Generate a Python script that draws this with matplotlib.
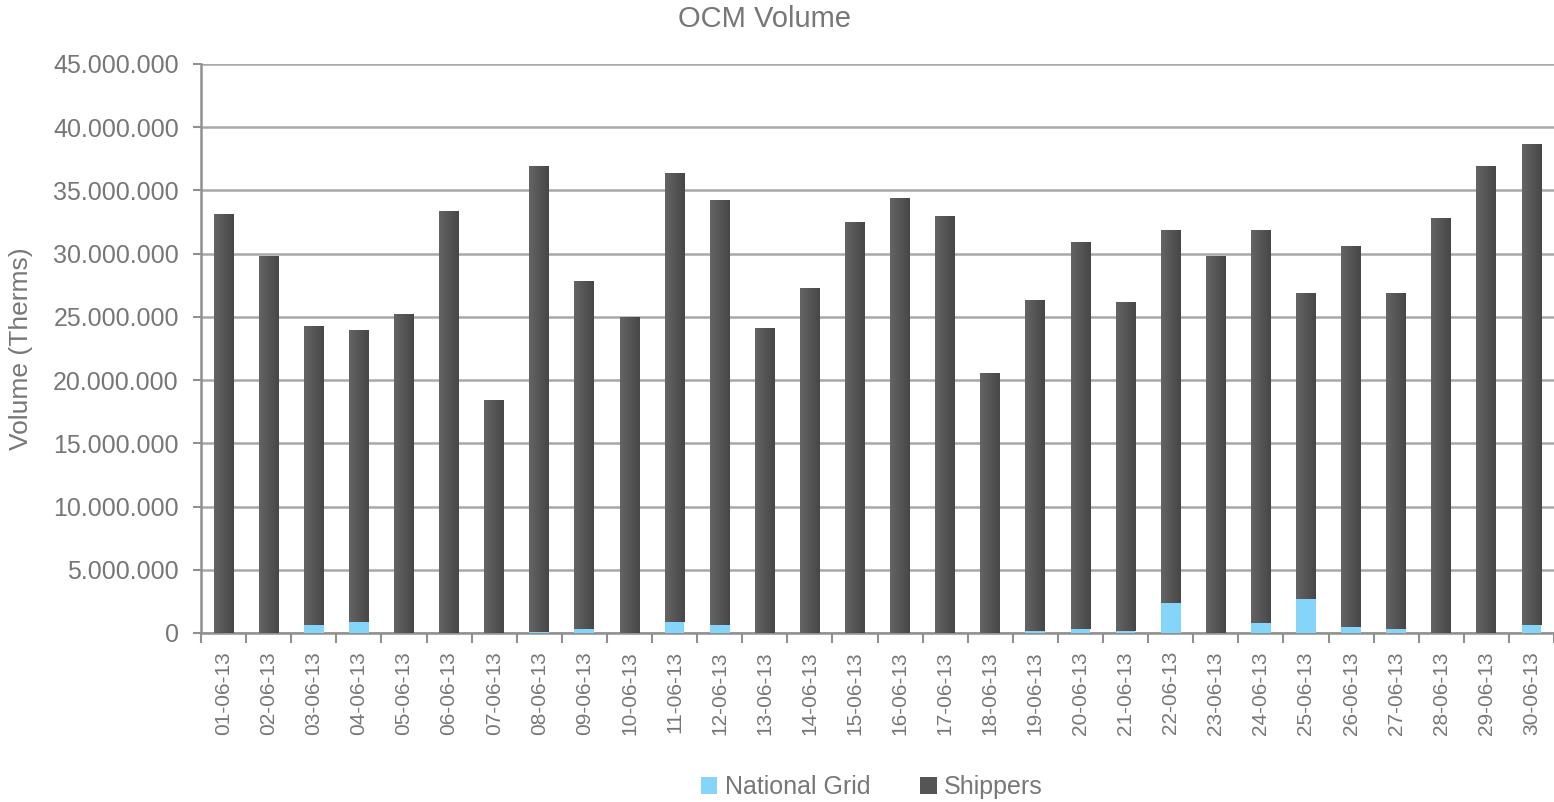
import numpy as np
import matplotlib
matplotlib.use("Agg")
import matplotlib.pyplot as plt
from matplotlib.ticker import FuncFormatter, FixedLocator

# data (therms)
dates = ["%02d-06-13" % d for d in range(1, 31)]
totals = [33.15, 29.85, 24.3, 24.0, 25.25, 33.4, 18.45, 36.95, 27.8, 25.0,
          36.4, 34.25, 24.15, 27.3, 32.5, 34.4, 33.0, 20.6, 26.3, 30.95,
          26.2, 31.9, 29.85, 31.9, 26.9, 30.6, 26.85, 32.85, 36.95, 38.7]
national_grid = [0.0, 0.0, 0.66, 0.84, 0.0, 0.0, 0.0, 0.05, 0.34, 0.0,
                 0.84, 0.66, 0.0, 0.0, 0.0, 0.0, 0.0, 0.0, 0.18, 0.34,
                 0.18, 2.4, 0.0, 0.82, 2.71, 0.5, 0.34, 0.0, 0.0, 0.66]

ng = np.array(national_grid) * 1e6
shippers = np.array(totals) * 1e6 - ng

grey = "#777777"
plt.rcParams["font.family"] = ["Liberation Sans", "DejaVu Sans"]

fig = plt.figure(figsize=(15.54, 8.02), dpi=100)
ax = fig.add_axes([201 / 1554, 1 - 633 / 802, 1353 / 1554, 569 / 802])

x = np.arange(len(dates))
w = 0.44
ng_bars = ax.bar(x, ng, w, color="#85D4FA", label="National Grid", zorder=3)
sh_bars = ax.bar(x, shippers, w, bottom=ng, color="#555555", label="Shippers", zorder=3)

# subtle left-to-right shading on the shipper bars
grad = np.linspace(0, 1, 64).reshape(1, -1)
cmap = matplotlib.colors.LinearSegmentedColormap.from_list("g", ["#646464", "#474747"])
for p in sh_bars:
    x0, y0 = p.get_x(), p.get_y()
    im = ax.imshow(grad, cmap=cmap, aspect="auto", zorder=4,
                   extent=(x0, x0 + p.get_width(), y0, y0 + p.get_height()))
    im.set_clip_path(p)

ax.set_xlim(-0.5, len(dates) - 0.5)
ax.set_ylim(0, 45e6)
ax.set_yticks(np.arange(0, 45e6 + 1, 5e6))
ax.yaxis.set_major_formatter(FuncFormatter(lambda v, _: f"{int(v):,}".replace(",", ".")))
ax.grid(axis="y", color="#A8A8A8", linewidth=1.8, zorder=0)

ax.set_xticks(x)
ax.set_xticklabels(dates, rotation=90, fontsize=15, color=grey)
ax.tick_params(axis="x", length=0, pad=13)
ax.xaxis.set_minor_locator(FixedLocator(np.arange(-0.5, len(dates), 1)))
ax.tick_params(axis="x", which="minor", length=7, width=1.5, color="#909090")
ax.tick_params(axis="y", length=6, width=1.5, color="#909090", labelsize=18,
               labelcolor=grey, pad=10)

for s in ["top", "right"]:
    ax.spines[s].set_visible(False)
for s in ["left", "bottom"]:
    ax.spines[s].set_color("#909090")
    ax.spines[s].set_linewidth(1.8)

ax.set_ylabel("Volume (Therms)", fontsize=19, color=grey)
ax.yaxis.set_label_coords(-168 / 1353, 0.5)
fig.text(764 / 1554, 1 - 19 / 802, "OCM Volume", ha="center", va="center", fontsize=21, color=grey)

fig.legend(handles=[ng_bars, sh_bars], loc="center", bbox_to_anchor=(872 / 1554, 1 - 787 / 802),
           ncol=2, frameon=False, fontsize=18, labelcolor=grey, handlelength=0.65,
           handleheight=0.65, handletextpad=0.3, columnspacing=2.0)

fig.savefig("out.png", dpi=100)
